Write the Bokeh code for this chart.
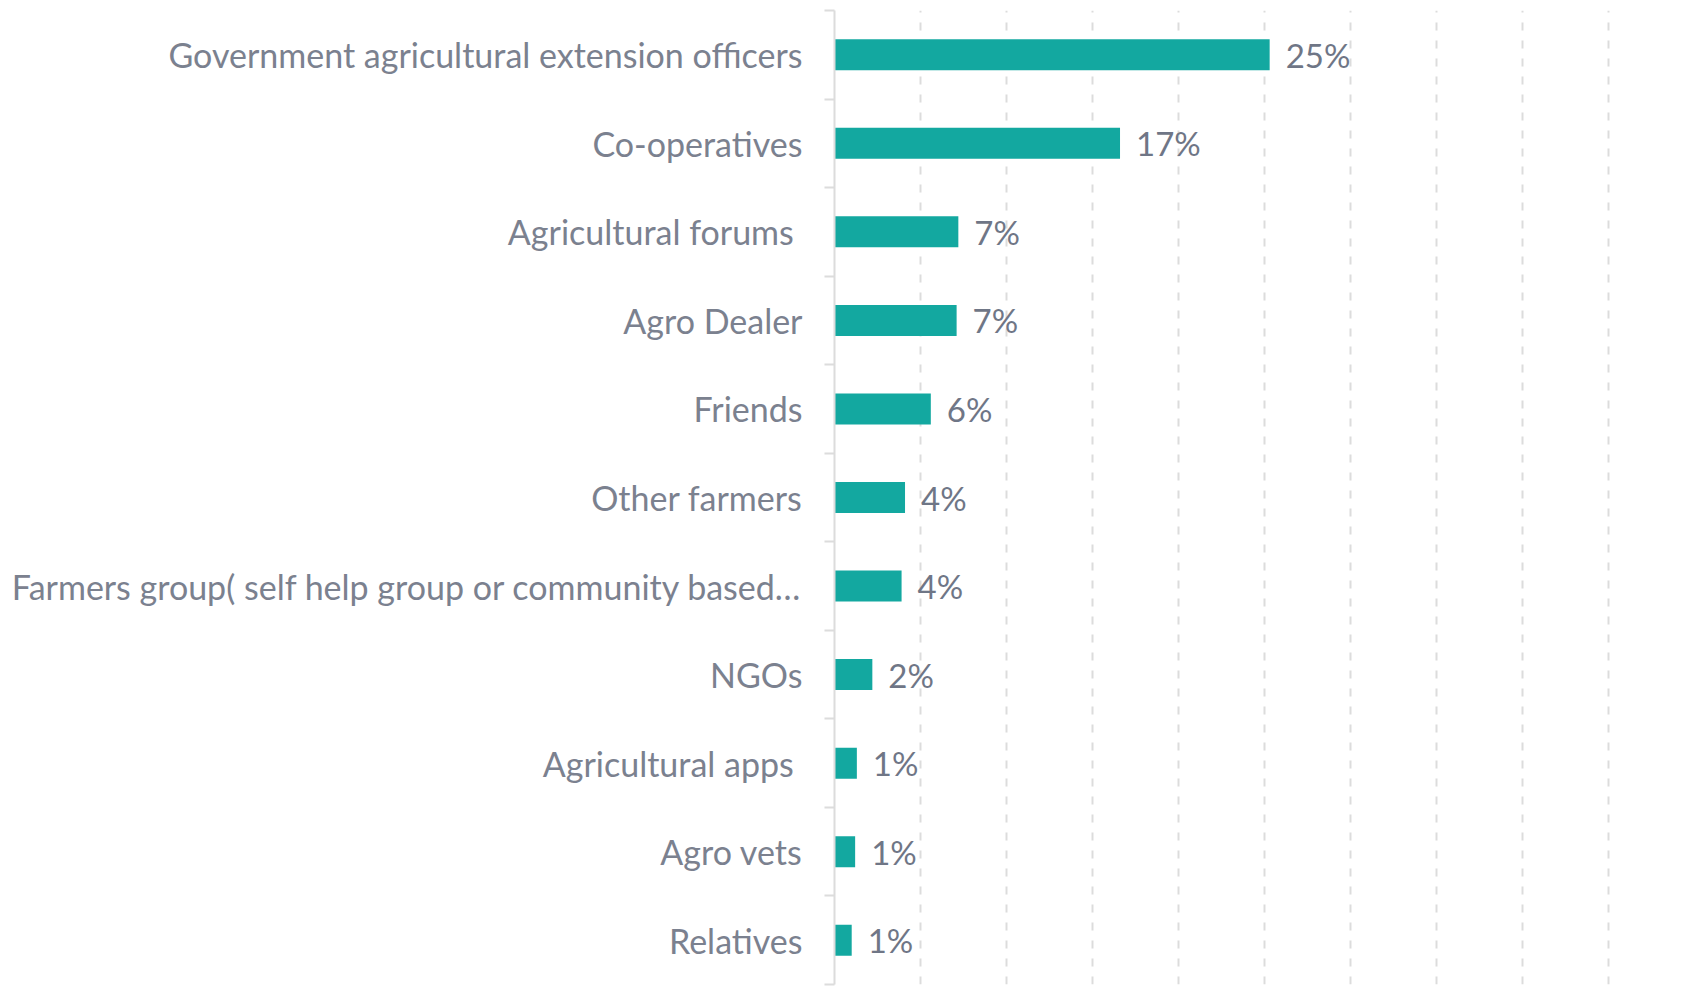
from bokeh.plotting import figure
from bokeh.models import Range1d, FixedTicker, ColumnDataSource
from bokeh.core.properties import value
from bokeh.embed import file_html
from bokeh.resources import INLINE

categories = [
    "Government agricultural extension officers",
    "Co-operatives",
    "Agricultural forums ",
    "Agro Dealer",
    "Friends",
    "Other farmers",
    "Farmers group( self help group or community based…",
    "NGOs",
    "Agricultural apps ",
    "Agro vets",
    "Relatives",
]
values = [25.3, 16.6, 7.2, 7.1, 5.6, 4.1, 3.9, 2.2, 1.3, 1.2, 1.0]
value_labels = ["25%", "17%", "7%", "7%", "6%", "4%", "4%", "2%", "1%", "1%", "1%"]
x_grid_ticks = [5, 10, 15, 20, 25, 30, 35, 40, 45]
x_max = 50

n = len(categories)
ypos = [n - i - 0.5 for i in range(n)]

source = ColumnDataSource(data=dict(y=ypos, v=values, lab=value_labels))

FONT = "Lato"
FS = "34px"
VFS = "33px"
BAR = "#13A8A0"
LABEL_COLOR = "#7b818f"
VALUE_COLOR = "#6f7686"
GRID = "#dcdcdc"

p = figure(
    width=1698, height=986,
    x_range=Range1d(0, x_max), y_range=Range1d(0, n),
    output_backend="svg", toolbar_location=None,
    x_axis_location=None,
    min_border_left=834, min_border_right=4,
    min_border_top=10, min_border_bottom=2,
)
p.outline_line_color = None
p.background_fill_color = "white"
p.border_fill_color = "white"

p.hbar(y="y", right="v", left=0, height=0.35, source=source,
       fill_color=BAR, line_color=None)

p.text(x="v", y="y", text="lab", source=source, x_offset=16,
       text_baseline="middle", text_align="left",
       text_font=value(FONT), text_font_size=VFS, text_color=VALUE_COLOR)

# grid
p.xgrid.ticker = FixedTicker(ticks=x_grid_ticks)
p.xgrid.grid_line_color = GRID
p.xgrid.grid_line_width = 2
p.xgrid.grid_line_dash = "8 10"
p.ygrid.grid_line_color = None

# y axis
yax = p.yaxis[0]
yax.ticker = FixedTicker(ticks=ypos, minor_ticks=list(range(0, n + 1)))
yax.major_label_overrides = {y: c for y, c in zip(ypos, categories)}
yax.axis_line_color = GRID
yax.axis_line_width = 2
yax.major_tick_line_color = None
yax.major_tick_out = 0
yax.major_tick_in = 0
yax.minor_tick_line_color = GRID
yax.minor_tick_line_width = 2
yax.minor_tick_out = 10
yax.minor_tick_in = 0
yax.major_label_standoff = 22
yax.major_label_text_font = FONT
yax.major_label_text_font_size = FS
yax.major_label_text_color = LABEL_COLOR

open("out.html", "w").write(file_html(p, INLINE))
